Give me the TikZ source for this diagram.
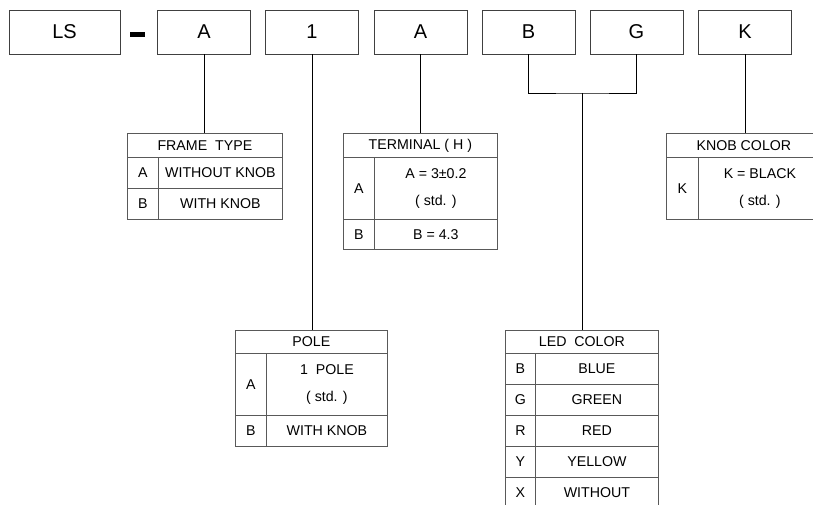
\documentclass[tikz,border=0pt]{standalone}
\usepackage{fontspec}
\setmainfont{Liberation Sans}
\definecolor{boxline}{gray}{0.25}
\definecolor{tabline}{gray}{0.35}
\newcommand{\tabfont}{\fontsize{14.2}{27}\selectfont}
\begin{document}
\begin{tikzpicture}[x=1pt,y=-1pt,
  topbox/.style={draw=boxline,line width=0.9pt,minimum height=44pt,minimum width=93pt,inner sep=0pt,font=\fontsize{20}{22}\selectfont},
  cell/.style={draw=tabline,line width=0.8pt,inner sep=0pt,anchor=north west,font=\tabfont,align=center},
  conn/.style={draw=black,line width=0.8pt}]
\clip (0,0) rectangle (813,504);
\fill[white] (0,0) rectangle (813,504);
% top code boxes
\node[topbox,minimum width=111pt] (ls) at (64.5,32) {LS};
\fill[black] (130,32.3) rectangle (145,36.8);
\node[topbox] (frame) at (204,32) {A};
\node[topbox] (pole) at (312,32) {1};
\node[topbox] (term) at (420.5,32) {A};
\node[topbox] (ledb) at (528.5,32) {B};
\node[topbox] (ledg) at (636.5,32) {G};
\node[topbox] (knob) at (745,32) {K};
% FRAME TYPE table
\node[cell,minimum width=155pt,minimum height=24pt] (frameh) at (127,133) {FRAME~~TYPE};
\node[cell,minimum width=31pt,minimum height=31pt] at (127,157) {A};
\node[cell,minimum width=124pt,minimum height=31pt] at (158,157) {WITHOUT KNOB};
\node[cell,minimum width=31pt,minimum height=31pt] at (127,188) {B};
\node[cell,minimum width=124pt,minimum height=31pt] at (158,188) {WITH KNOB};
% TERMINAL table
\node[cell,minimum width=154pt,minimum height=24pt] (termh) at (343,133) {TERMINAL ( H )};
\node[cell,minimum width=31pt,minimum height=62pt] at (343,157) {A};
\node[cell,minimum width=123pt,minimum height=62pt] at (374,157) {A = 3±0.2\\( std. )};
\node[cell,minimum width=31pt,minimum height=30pt] at (343,219) {B};
\node[cell,minimum width=123pt,minimum height=30pt] at (374,219) {B = 4.3};
% KNOB COLOR table
\node[cell,minimum width=155pt,minimum height=24pt] (knobh) at (666,133) {KNOB COLOR};
\node[cell,minimum width=32pt,minimum height=62pt] at (666,157) {K};
\node[cell,minimum width=123pt,minimum height=62pt] at (698,157) {K = BLACK\\( std. )};
% POLE table
\node[cell,minimum width=152pt,minimum height=23pt] (poleh) at (235,330) {POLE};
\node[cell,minimum width=31pt,minimum height=62pt] at (235,353) {A};
\node[cell,minimum width=121pt,minimum height=62pt] at (266,353) {1~~POLE\\( std. )};
\node[cell,minimum width=31pt,minimum height=31pt] at (235,415) {B};
\node[cell,minimum width=121pt,minimum height=31pt] at (266,415) {WITH KNOB};
% LED COLOR table
\node[cell,minimum width=153pt,minimum height=23pt] (ledh) at (505,330) {LED~~COLOR};
\node[cell,minimum width=30pt,minimum height=31pt] at (505,353) {B};
\node[cell,minimum width=123pt,minimum height=31pt] at (535,353) {BLUE};
\node[cell,minimum width=30pt,minimum height=31pt] at (505,384) {G};
\node[cell,minimum width=123pt,minimum height=31pt] at (535,384) {GREEN};
\node[cell,minimum width=30pt,minimum height=31pt] at (505,415) {R};
\node[cell,minimum width=123pt,minimum height=31pt] at (535,415) {RED};
\node[cell,minimum width=30pt,minimum height=31pt] at (505,446) {Y};
\node[cell,minimum width=123pt,minimum height=31pt] at (535,446) {YELLOW};
\node[cell,minimum width=30pt,minimum height=31pt] at (505,477) {X};
\node[cell,minimum width=123pt,minimum height=31pt] at (535,477) {WITHOUT};
% connectors
\draw[conn] (frame.south) -- (frameh.north -| frame.south);
\draw[conn] (pole.south) -- (poleh.north -| pole.south);
\draw[conn] (term.south) -- (termh.north -| term.south);
\draw[conn] (knob.south) -- (knobh.north -| knob.south);
\coordinate (jn) at (582.5,93);
\draw[conn] (ledb.south) |- (jn) -| (ledg.south);
\draw[conn] (jn) -- (ledh.north -| jn);
\end{tikzpicture}
\end{document}
